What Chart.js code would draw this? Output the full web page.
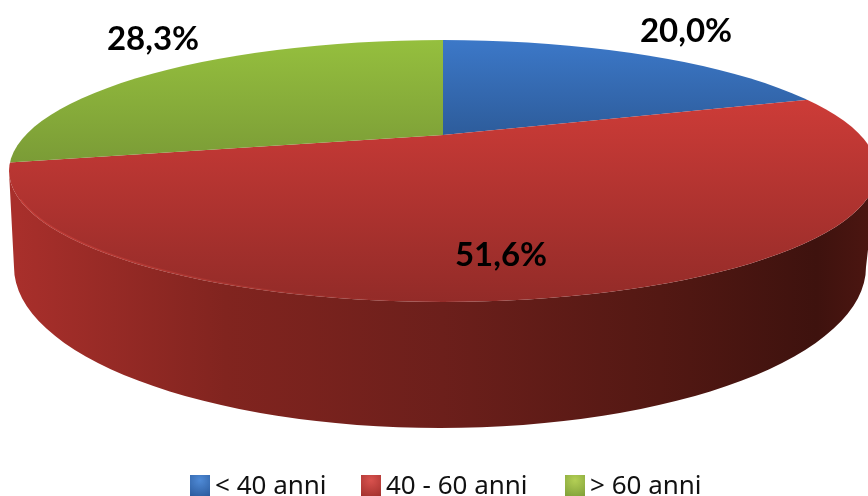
<!DOCTYPE html>
<html lang="it">
<head>
<meta charset="utf-8">
<title>Età</title>
<script src="https://cdn.jsdelivr.net/npm/chart.js@4"></script>
<style>
    html, body { margin: 0; padding: 0; background: #fff; }
    #wrap { position: relative; width: 868px; height: 496px; overflow: hidden; }
    #grafico { position: absolute; left: 0; top: 0; filter: blur(0.6px); }
    #legenda { position: absolute; left: 190px; top: 470px; height: 28px; display: flex; align-items: center;
        font: 26px "Noto Sans", sans-serif; color: #111; white-space: nowrap; }
    .voce { position: absolute; top: 0; display: flex; align-items: center; height: 28px; }
    .quadrato { width: 20px; height: 21px; margin-right: 5px; margin-top: 3px; filter: blur(0.7px); }
</style>
</head>
<body>
<div id="wrap">
    <canvas id="grafico" width="868" height="496"></canvas>
    <div id="legenda"></div>
</div>
<script>
/* dati */
const categorie = ['< 40 anni', '40 - 60 anni', '> 60 anni'];
const valori = [20.0, 51.6, 28.3];

/* colori: [alto, basso] per ogni fetta */
const coloriFette = [['#3c78c8', '#2d5c9b'], ['#cb3b37', '#932b28'], ['#95bf3e', '#7a9b36']];
const coloriLegenda = [['#4f8ad6', '#2a5a9c'], ['#d8524e', '#a12f2c'], ['#b3cf55', '#7f9f38']];

/* geometria della vista 3D */
const apice = { x: 443, y: 135 };
const faccia = { x: 443, y: 171, rx: 434, ry: 131 };
const fondo = { x: 440, y: 267, rx: 426, ry: 161 };
const schiacciamento = 0.2976;
const posEtichette = [[686, 31], [501, 255], [153, 39]];
const gradiente = [[0.01, '#a82f2b'], [0.25, '#81241f'], [0.5, '#6c1f1b'], [0.75, '#531813'], [0.93, '#3e120e'], [1, '#4d1611']];

function scala(chart) {
    const area = chart.chartArea;
    const R = Math.min(area.width, area.height) / 2;
    return { R: R, cx: (area.left + area.right) / 2, cy: (area.top + area.bottom) / 2, sy: 180 / R, sx: 180 / R / schiacciamento };
}

/* gradiente verticale per fetta, calcolato nelle coordinate del grafico prima della trasformazione */
function coloreFetta(c) {
    if (!c.chart.chartArea) return coloriFette[c.dataIndex][0];
    const s = scala(c.chart);
    const su = [40, 105, 40][c.dataIndex];
    const giu = [135, 301, 165][c.dataIndex];
    const g = c.chart.ctx.createLinearGradient(0, s.cy + (su - apice.y) / s.sy, 0, s.cy + (giu - apice.y) / s.sy);
    g.addColorStop(0, coloriFette[c.dataIndex][0]);
    g.addColorStop(1, coloriFette[c.dataIndex][1]);
    return g;
}

/* disegna il fianco e applica la prospettiva alle fette di Chart.js */
const torta3d = {
    id: 'torta3d',
    beforeDatasetsDraw(chart) {
        const ctx = chart.ctx;
        const s = scala(chart);

        const lato = ctx.createLinearGradient(faccia.x - faccia.rx, 0, faccia.x + faccia.rx, 0);
        gradiente.forEach(([pos, col]) => lato.addColorStop(pos, col));
        ctx.save();
        ctx.fillStyle = lato;
        ctx.beginPath();
        ctx.ellipse(faccia.x, faccia.y, faccia.rx, faccia.ry, 0, Math.PI, 0, true);
        ctx.lineTo(fondo.x + fondo.rx, fondo.y);
        ctx.ellipse(fondo.x, fondo.y, fondo.rx, fondo.ry, 0, 0, Math.PI, false);
        ctx.closePath();
        ctx.fill();
        ctx.restore();

        ctx.save();
        ctx.beginPath();
        ctx.ellipse(faccia.x, faccia.y, faccia.rx, faccia.ry, 0, 0, Math.PI * 2);
        ctx.clip();
        ctx.translate(apice.x, apice.y);
        ctx.scale(s.sx, s.sy);
        ctx.translate(-s.cx, -s.cy);
    },
    afterDatasetsDraw(chart) {
        const ctx = chart.ctx;
        ctx.restore();

        /* riflesso chiaro sul bordo sinistro */
        const luce = ctx.createLinearGradient(faccia.x - faccia.rx, 0, faccia.x, 0);
        luce.addColorStop(0, 'rgba(206,66,60,0.7)');
        luce.addColorStop(0.6, 'rgba(180,58,52,0.45)');
        luce.addColorStop(1, 'rgba(150,44,40,0)');
        ctx.save();
        ctx.strokeStyle = luce;
        ctx.lineWidth = 1.5;
        ctx.beginPath();
        ctx.ellipse(faccia.x, faccia.y, faccia.rx - 1, faccia.ry - 1, 0, Math.PI * 0.53, Math.PI * 0.93);
        ctx.stroke();
        ctx.restore();

        /* etichette percentuali */
        ctx.save();
        ctx.font = 'bold 33px Lato, sans-serif';
        ctx.fillStyle = '#000';
        ctx.textAlign = 'center';
        ctx.textBaseline = 'middle';
        valori.forEach((v, i) => {
            ctx.fillText(v.toFixed(1).replace('.', ',') + '%', posEtichette[i][0], posEtichette[i][1]);
        });
        ctx.restore();
    }
};

new Chart(document.getElementById('grafico'), {
    type: 'pie',
    data: {
        labels: categorie,
        datasets: [{ data: valori, backgroundColor: coloreFetta, borderWidth: 0 }]
    },
    options: {
        responsive: false,
        animation: false,
        events: [],
        plugins: { legend: { display: false }, tooltip: { enabled: false } }
    },
    plugins: [torta3d]
});

/* legenda in HTML: serve una distanza minore tra quadrato e testo */
const posLegenda = [0, 171, 375];
const legenda = document.getElementById('legenda');
for (let i = 0; i < categorie.length; i++) {
    const voce = document.createElement('div');
    voce.className = 'voce';
    voce.style.left = posLegenda[i] + 'px';
    const quadrato = document.createElement('span');
    quadrato.className = 'quadrato';
    quadrato.style.background = `radial-gradient(circle at 50% 25%, ${coloriLegenda[i][0]}, ${coloriLegenda[i][1]})`;
    voce.appendChild(quadrato);
    voce.appendChild(document.createTextNode(categorie[i]));
    legenda.appendChild(voce);
}
</script>
</body>
</html>
